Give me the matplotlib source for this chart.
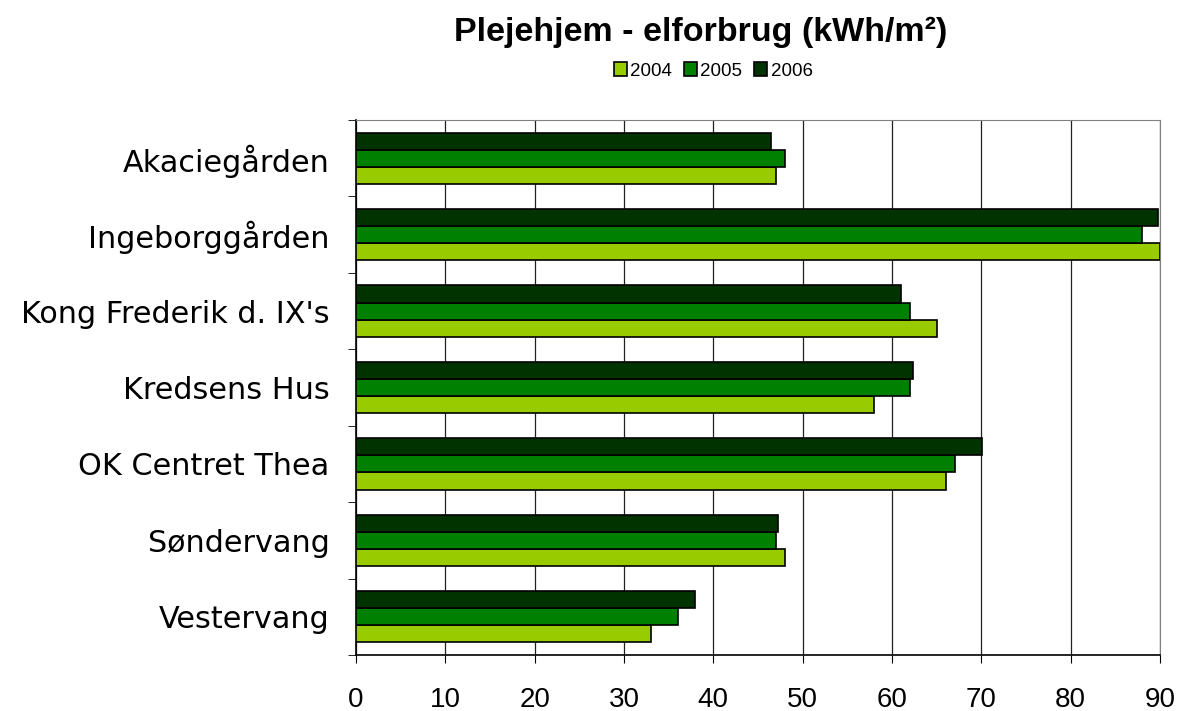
import numpy as np
import matplotlib.pyplot as plt

plt.rcParams['font.family'] = ['Liberation Sans', 'DejaVu Sans']

homes = ['Akaciegården', 'Ingeborggården', "Kong Frederik d. IX's", 'Kredsens Hus',
         'OK Centret Thea', 'Søndervang', 'Vestervang']
years = ['2004', '2005', '2006']
v2004 = [47, 90, 65, 58, 66, 48, 33]
v2005 = [48, 88, 62, 62, 67, 47, 36]
v2006 = [46.5, 89.8, 61, 62.3, 70.1, 47.2, 37.9]
colors = ['#99CC00', '#008000', '#003300']

fig = plt.figure(figsize=(11.8, 7.11), dpi=100)
ax = fig.add_axes([356 / 1180, 1 - 655 / 711, 804 / 1180, 535 / 711])

n = len(homes)
pos = np.arange(n)[::-1].astype(float)
h = 0.224
for i, (vals, c, yr) in enumerate(zip([v2004, v2005, v2006], colors, years)):
    ax.barh(pos + (i - 1) * h, vals, height=h, color=c, edgecolor='black',
            linewidth=1.2, label=yr, zorder=3)

ax.set_xlim(0, 90)
ax.set_ylim(-0.5, n - 0.5)
ax.set_xticks(range(0, 91, 10))
ax.tick_params(axis='x', labelsize=20, length=6, direction='out', pad=17)
ax.set_yticks(pos)
ax.set_yticklabels(homes, fontsize=21.8, family='DejaVu Sans')
ax.set_yticks(np.arange(-0.5, n, 1.0), minor=True)
ax.tick_params(axis='y', which='major', length=0, pad=19)
ax.tick_params(axis='y', which='minor', length=6, direction='out')
ax.grid(axis='x', color='#202020', linewidth=0.9, zorder=0)
ax.set_axisbelow(True)
for s in ['top', 'right']:
    ax.spines[s].set_color('#808080')
for s in ['left', 'bottom']:
    ax.spines[s].set_color('black')
    ax.spines[s].set_linewidth(1.2)

fig.text(701 / 1180, 1 - 41 / 711, 'Plejehjem - elforbrug (kWh/m²)', ha='center', va='baseline',
         fontsize=24.5, fontweight='bold')
handles, labels = ax.get_legend_handles_labels()
fig.legend(handles, labels, loc='center', bbox_to_anchor=(713 / 1180, 1 - 71 / 711), ncol=3,
           frameon=False, fontsize=13.5, handlelength=0.7, handleheight=0.7,
           handletextpad=0.2, columnspacing=0.6)

fig.savefig('out.png', dpi=100)
